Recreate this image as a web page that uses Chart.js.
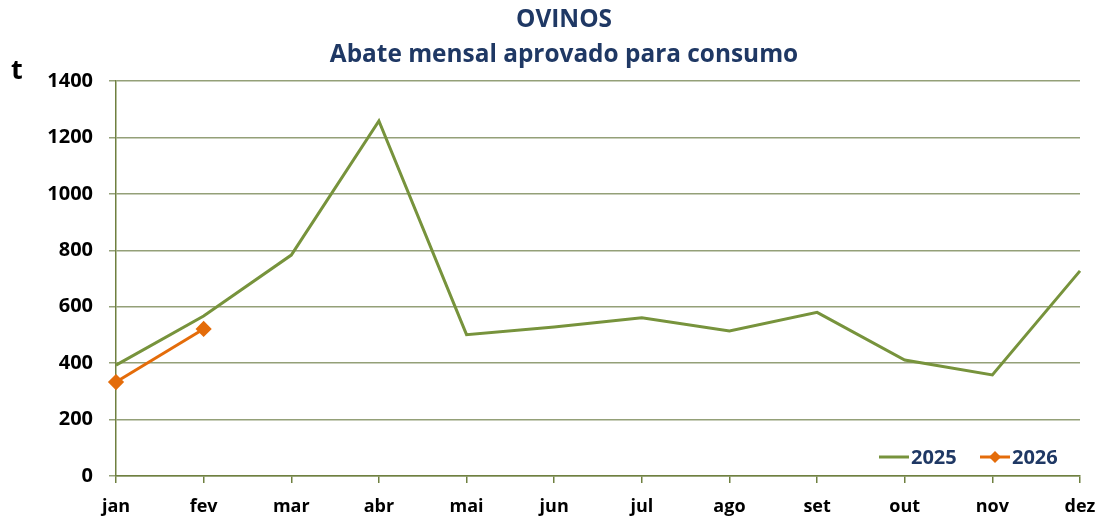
<!DOCTYPE html>
<html><head><meta charset="utf-8">
<script src="https://cdn.jsdelivr.net/npm/chart.js@4.4.1/dist/chart.umd.min.js"></script>
<style>html,body{margin:0;padding:0;background:#fff}#wrap{width:1102px;height:519px}</style>
</head><body><div id="wrap"><canvas id="c"></canvas></div>
<script>
const months = ['jan','fev','mar','abr','mai','jun','jul','ago','set','out','nov','dez'];
const values2025 = [393, 567, 783, 1258, 501, 528, 561, 514, 580, 411, 358, 727];
const values2026 = [333, 521];
const yTicks = [0, 200, 400, 600, 800, 1000, 1200, 1400];
const titleLines = ['OVINOS', 'Abate mensal aprovado para consumo'];
const yUnit = 't';

const navy = '#1f3864';
const green = '#77933c';
const orange = '#e46c0a';
const gridCol = '#94a078';
const axisCol = '#6f8040';

const legendPlugin = {
  id: 'inLegend',
  afterDraw(chart) {
    const ctx = chart.ctx;
    const ca = chart.chartArea;
    const y = ca.bottom - 19;
    ctx.save();
    ctx.font = 'bold 20px "Open Sans"';
    ctx.textBaseline = 'middle';
    ctx.textAlign = 'left';
    const items = chart.data.datasets;
    let x = 879;
    items.forEach((ds, i) => {
      ctx.strokeStyle = ds.borderColor;
      ctx.lineWidth = 3;
      ctx.beginPath(); ctx.moveTo(x, y); ctx.lineTo(x + 30, y); ctx.stroke();
      if (ds.pointRadius > 0) {
        ctx.fillStyle = ds.borderColor;
        ctx.beginPath();
        const cx = x + 15, r = 6;
        ctx.moveTo(cx, y - r); ctx.lineTo(cx + r, y); ctx.lineTo(cx, y + r); ctx.lineTo(cx - r, y); ctx.closePath();
        ctx.fill();
      }
      ctx.fillStyle = navy;
      ctx.fillText(ds.label, x + 32, y + 1);
      x += 101;
    });
    ctx.fillStyle = '#000';
    ctx.font = 'bold 27px "Open Sans"';
    ctx.textAlign = 'left';
    ctx.fillText(yUnit, 11, 71);
    ctx.restore();
  }
};

new Chart(document.getElementById('c'), {
  type: 'line',
  data: {
    labels: months,
    datasets: [
      { label: '2025', data: values2025, borderColor: green, backgroundColor: green, borderWidth: 3, pointRadius: 0, tension: 0 },
      { label: '2026', data: values2026, borderColor: orange, backgroundColor: orange, borderWidth: 3, pointRadius: 6, pointHoverRadius: 6, pointStyle: 'rectRot', tension: 0 }
    ]
  },
  options: {
    responsive: true,
    maintainAspectRatio: false,
    animation: false,
    layout: { padding: { left: 48, right: 22, top: 0, bottom: 0 } },
    plugins: {
      legend: { display: false },
      tooltip: { enabled: false },
      title: {
        display: true,
        text: titleLines,
        color: navy,
        font: { family: 'Open Sans', size: 24.4, weight: 'bold', lineHeight: 1.434 },
        padding: { top: 3, bottom: 8 }
      }
    },
    scales: {
      x: {
        offset: false,
        grid: { display: true, drawOnChartArea: false, drawTicks: true, tickLength: 7, color: axisCol, lineWidth: 1.5 },
        border: { display: true, color: axisCol, width: 1.5 },
        ticks: { color: '#000', font: { family: 'Open Sans', size: 18, weight: 'bold' }, padding: 13, maxRotation: 0, autoSkip: false },
        afterFit(s) { s.height = 43; s.paddingLeft = 0; s.paddingRight = 0; }
      },
      y: {
        min: 0, max: 1400,
        afterBuildTicks(s) { s.ticks = yTicks.map(v => ({ value: v })); },
        grid: { color: gridCol, lineWidth: 1.5, tickLength: 7 },
        border: { display: true, color: axisCol, width: 1.5 },
        ticks: { color: '#000', font: { family: 'Open Sans', size: 20, weight: 'bold' }, padding: 16, callback: v => String(v) },
        afterFit(s) { s.width = 68; }
      }
    }
  },
  plugins: [legendPlugin]
});
</script></body></html>
